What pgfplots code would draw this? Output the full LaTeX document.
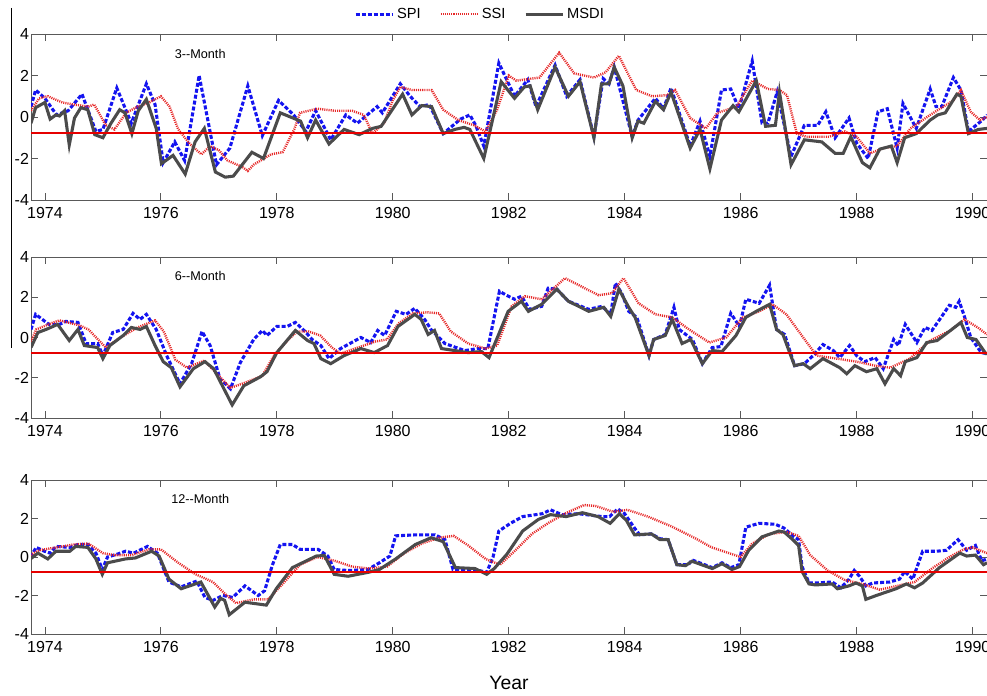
\documentclass[border=0pt]{standalone}
\usepackage{fontspec}
\setmainfont{Liberation Sans}
\usepackage{pgfplots}
\pgfplotsset{compat=1.18}
\definecolor{spic}{RGB}{20,20,240}
\definecolor{ssic}{RGB}{230,40,40}
\definecolor{msdic}{RGB}{75,75,75}
\definecolor{thrc}{RGB}{230,0,0}
\pgfplotsset{panel/.style={
  scale only axis, width=717pt, xmin=1973.76, xmax=1990.25, ymin=-4, ymax=4,
  xtick={1974,1976,...,1990}, ytick={-4,-2,0,2,4},
  xticklabel style={/pgf/number format/1000 sep={}},
  /pgf/number format/assume math mode=true,
  tick align=inside, major tick length=5pt, tick style={gray!70!black, line width=0.6pt},
  axis line style={gray!70!black, line width=0.6pt},
  ticklabel style={font=\fontsize{12}{12}\selectfont},
  xticklabel style={yshift=-2pt}, yticklabel style={xshift=2pt},
  clip=true},
  spi/.style={spic, line width=2.3pt, dash pattern=on 3pt off 1.5pt},
  ssi/.style={ssic, line width=1.8pt, dash pattern=on 0.8pt off 0.8pt},
  msdi/.style={msdic, line width=2.3pt}}
\newcommand\thrline{\addplot[draw=thrc, line width=1.2pt, forget plot] coordinates {(1973.76,-0.78)(1990.25,-0.78)};}
\begin{document}
\begin{tikzpicture}
\path[use as bounding box] (0,0) rectangle (740.25pt,521.25pt);
% Panel 1
\begin{axis}[panel, at={(23.25pt,371.25pt)}, anchor=south west, height=124.5pt,
  legend columns=3, legend style={at={(0.47,1.12)}, anchor=center, draw=none, fill=none,
  font=\fontsize{11}{11}\selectfont, /tikz/every even column/.append style={column sep=12pt}},
  legend image code/.code={\draw[#1] (0pt,0pt) -- (28pt,0pt);}]
\addplot[spi] coordinates {(1973.76,0.5)(1973.84,1.3)(1974.0,0.9)(1974.2,0.1)(1974.4,0.3)(1974.64,1.1)(1974.88,-0.7)(1975.0,-0.6)(1975.24,1.4)(1975.49,-0.3)(1975.75,1.6)(1975.9,0.6)(1976.04,-2.2)(1976.24,-1.2)(1976.41,-2.1)(1976.66,2.0)(1976.96,-2.3)(1977.19,-1.5)(1977.5,1.5)(1977.75,-0.9)(1978.03,0.8)(1978.29,0.1)(1978.5,-0.7)(1978.67,0.3)(1978.93,-1.1)(1979.19,0.1)(1979.39,-0.3)(1979.73,0.5)(1979.82,0.2)(1980.13,1.6)(1980.3,1.0)(1980.47,0.5)(1980.63,0.6)(1980.87,-0.8)(1981.17,-0.1)(1981.33,0.1)(1981.43,-0.4)(1981.57,-1.4)(1981.83,2.6)(1982.1,1.0)(1982.33,1.8)(1982.47,0.5)(1982.8,2.5)(1983.0,1.0)(1983.23,1.8)(1983.47,-0.95)(1983.63,1.85)(1983.73,1.6)(1983.82,2.4)(1984.13,-0.95)(1984.23,-0.15)(1984.53,0.9)(1984.67,0.4)(1984.8,1.4)(1985.13,-1.4)(1985.3,-0.2)(1985.47,-1.9)(1985.67,1.3)(1985.83,1.35)(1985.97,0.4)(1986.2,2.7)(1986.37,-0.3)(1986.47,-0.3)(1986.63,1.2)(1986.87,-1.9)(1987.1,-0.4)(1987.33,-0.4)(1987.47,0.25)(1987.63,-1.0)(1987.87,-0.05)(1988.0,-1.25)(1988.2,-2.0)(1988.37,0.25)(1988.53,0.4)(1988.7,-1.5)(1988.8,0.65)(1989.03,-0.55)(1989.27,1.35)(1989.37,0.5)(1989.47,0.5)(1989.67,1.9)(1989.8,1.3)(1989.93,-0.7)(1990.17,-0.15)(1990.25,0.1)};
\addlegendentry{SPI}
\addplot[ssi] coordinates {(1973.76,0.3)(1973.9,0.9)(1974.05,1.0)(1974.3,0.7)(1974.5,0.6)(1974.75,0.5)(1974.85,0.6)(1975.05,-0.4)(1975.2,-0.6)(1975.4,0.2)(1975.6,0.5)(1975.8,0.7)(1976.0,1.0)(1976.15,0.5)(1976.3,-0.6)(1976.5,-1.3)(1976.7,-1.8)(1976.85,-1.4)(1977.0,-1.6)(1977.15,-2.1)(1977.4,-2.4)(1977.5,-2.6)(1977.6,-2.3)(1977.9,-1.8)(1978.1,-1.7)(1978.3,-0.6)(1978.4,0.2)(1978.7,0.4)(1979.0,0.3)(1979.3,0.3)(1979.5,0.1)(1979.65,-0.8)(1979.85,-0.3)(1980.0,0.8)(1980.13,1.45)(1980.33,1.3)(1980.67,1.3)(1980.87,0.35)(1981.13,-0.15)(1981.4,-0.4)(1981.6,-0.7)(1981.8,0.35)(1982.0,2.0)(1982.13,1.75)(1982.53,1.9)(1982.87,3.1)(1983.13,2.1)(1983.47,1.9)(1983.67,2.15)(1983.9,2.95)(1984.2,1.3)(1984.47,1.0)(1984.73,1.05)(1984.87,1.3)(1985.13,-0.05)(1985.4,-0.55)(1985.6,0.2)(1985.93,0.5)(1986.2,1.75)(1986.47,1.35)(1986.67,1.3)(1986.8,1.05)(1986.97,-0.8)(1987.13,-0.95)(1987.53,-0.95)(1987.8,-0.7)(1988.0,-0.95)(1988.23,-1.75)(1988.47,-1.5)(1988.7,-1.4)(1988.93,-0.55)(1989.27,0.1)(1989.67,0.8)(1989.8,1.3)(1989.97,0.25)(1990.13,-0.15)(1990.25,0.0)};
\addlegendentry{SSI}
\addplot[msdi] coordinates {(1973.76,-0.3)(1973.84,0.45)(1974.0,0.7)(1974.09,-0.1)(1974.19,0.1)(1974.25,0.05)(1974.34,0.3)(1974.42,-1.35)(1974.51,-0.05)(1974.62,0.45)(1974.74,0.35)(1974.86,-0.85)(1975.0,-1.0)(1975.14,-0.3)(1975.29,0.35)(1975.38,0.2)(1975.5,-0.8)(1975.61,0.3)(1975.75,0.85)(1975.92,-0.55)(1976.01,-2.25)(1976.21,-1.85)(1976.42,-2.75)(1976.59,-1.2)(1976.75,-0.55)(1976.94,-2.65)(1977.11,-2.9)(1977.25,-2.85)(1977.57,-1.7)(1977.77,-2.0)(1978.06,0.2)(1978.41,-0.2)(1978.53,-1.0)(1978.67,-0.15)(1978.9,-1.3)(1979.16,-0.6)(1979.42,-0.85)(1979.65,-0.55)(1979.8,-0.45)(1980.17,1.1)(1980.33,0.1)(1980.5,0.55)(1980.67,0.5)(1980.87,-0.8)(1981.07,-0.6)(1981.23,-0.5)(1981.33,-0.6)(1981.57,-2.0)(1981.87,1.7)(1982.1,0.9)(1982.27,1.45)(1982.37,1.5)(1982.5,0.35)(1982.8,2.4)(1983.03,1.0)(1983.23,1.7)(1983.47,-1.0)(1983.6,1.6)(1983.73,1.6)(1983.82,2.4)(1983.97,1.5)(1984.13,-1.0)(1984.23,-0.2)(1984.33,-0.3)(1984.53,0.75)(1984.67,0.35)(1984.8,1.2)(1985.13,-1.5)(1985.3,-0.6)(1985.47,-2.5)(1985.67,-0.15)(1985.87,0.55)(1985.97,0.25)(1986.27,1.75)(1986.43,-0.45)(1986.6,-0.4)(1986.67,1.2)(1986.87,-2.3)(1987.1,-1.1)(1987.4,-1.2)(1987.63,-1.75)(1987.77,-1.75)(1987.9,-0.95)(1988.1,-2.2)(1988.23,-2.45)(1988.4,-1.55)(1988.6,-1.4)(1988.7,-2.2)(1988.83,-1.0)(1989.03,-0.8)(1989.27,-0.15)(1989.4,0.1)(1989.53,0.2)(1989.73,1.1)(1989.8,1.0)(1989.93,-0.8)(1990.1,-0.6)(1990.25,-0.55)};
\addlegendentry{MSDI}
\thrline
\node[font=\fontsize{9.5}{9.5}\selectfont] at (rel axis cs:0.177,0.88) {3{-}{-}Month};
\end{axis}
% Panel 2
\begin{axis}[panel, at={(23.25pt,207.75pt)}, anchor=south west, height=120.75pt]
\addplot[spi] coordinates {(1973.76,0.4)(1973.84,1.15)(1974.07,0.65)(1974.25,0.65)(1974.36,0.8)(1974.57,0.75)(1974.71,-0.3)(1974.91,-0.3)(1975.0,-0.9)(1975.17,0.25)(1975.35,0.4)(1975.52,1.2)(1975.64,0.9)(1975.75,1.15)(1975.92,0.4)(1976.1,-0.9)(1976.33,-2.3)(1976.53,-1.3)(1976.71,0.3)(1976.85,-0.4)(1977.02,-2.05)(1977.2,-2.55)(1977.37,-1.25)(1977.6,-0.1)(1977.75,0.35)(1977.83,0.1)(1978.0,0.55)(1978.18,0.55)(1978.32,0.75)(1978.47,0.35)(1978.61,-0.1)(1978.76,-0.4)(1978.9,-1.05)(1979.1,-0.55)(1979.45,0.0)(1979.62,-0.25)(1979.74,0.35)(1979.86,0.1)(1980.06,1.3)(1980.23,1.15)(1980.38,1.45)(1980.55,0.9)(1980.66,0.4)(1980.9,-0.3)(1981.24,-0.65)(1981.47,-0.55)(1981.64,-0.55)(1981.84,2.3)(1981.96,2.1)(1982.1,1.9)(1982.22,2.05)(1982.36,1.4)(1982.57,1.55)(1982.68,2.45)(1982.83,2.4)(1983.03,1.8)(1983.38,1.4)(1983.61,1.55)(1983.76,1.15)(1983.84,2.7)(1983.95,2.2)(1984.07,1.3)(1984.21,1.0)(1984.42,-0.9)(1984.5,-0.1)(1984.7,0.15)(1984.85,1.5)(1984.94,0.4)(1985.17,-0.1)(1985.34,-1.3)(1985.51,-0.5)(1985.66,-0.45)(1985.83,1.2)(1985.98,0.55)(1986.09,1.9)(1986.32,1.7)(1986.5,2.6)(1986.62,0.4)(1986.76,0.15)(1986.93,-1.4)(1987.1,-1.3)(1987.25,-0.9)(1987.42,-0.35)(1987.6,-0.65)(1987.71,-1.0)(1987.88,-0.4)(1988.0,-0.9)(1988.14,-1.2)(1988.32,-1.0)(1988.46,-1.55)(1988.64,-0.1)(1988.72,-0.4)(1988.84,0.65)(1989.04,-0.25)(1989.18,0.5)(1989.3,0.35)(1989.47,1.05)(1989.6,1.6)(1989.71,1.5)(1989.77,1.8)(1989.86,1.05)(1989.97,0.0)(1990.15,-0.75)(1990.25,-0.8)};
\addplot[ssi] coordinates {(1973.76,-0.2)(1973.85,0.4)(1974.1,0.7)(1974.25,0.85)(1974.6,0.6)(1974.75,0.4)(1974.95,-0.2)(1975.05,-0.5)(1975.3,0.0)(1975.6,0.5)(1975.9,0.85)(1976.05,0.3)(1976.25,-1.1)(1976.45,-1.5)(1976.75,-1.15)(1977.0,-1.9)(1977.2,-2.5)(1977.45,-2.25)(1977.75,-1.9)(1977.95,-0.9)(1978.2,-0.1)(1978.35,0.3)(1978.55,0.3)(1978.75,0.1)(1978.95,-0.5)(1979.1,-0.8)(1979.4,-0.5)(1979.7,-0.2)(1979.9,-0.1)(1980.1,0.7)(1980.35,1.2)(1980.6,1.25)(1980.8,1.2)(1981.0,0.3)(1981.3,-0.3)(1981.6,-0.55)(1981.8,-0.4)(1982.05,1.55)(1982.28,2.05)(1982.57,1.9)(1982.97,2.95)(1983.55,2.1)(1983.78,2.2)(1983.98,2.95)(1984.24,1.7)(1984.53,1.15)(1984.82,1.0)(1985.11,0.4)(1985.46,-0.25)(1985.75,0.0)(1986.04,1.0)(1986.32,1.3)(1986.55,1.65)(1986.79,1.15)(1987.08,0.0)(1987.31,-0.9)(1987.66,-1.05)(1988.0,-1.2)(1988.32,-1.4)(1988.58,-1.5)(1988.92,-1.05)(1989.27,-0.15)(1989.62,0.35)(1989.86,0.9)(1990.09,0.5)(1990.25,0.15)};
\addplot[msdi] coordinates {(1973.76,-0.5)(1973.88,0.25)(1974.02,0.4)(1974.22,0.65)(1974.42,-0.15)(1974.57,0.4)(1974.68,-0.4)(1974.91,-0.5)(1975.0,-1.05)(1975.12,-0.4)(1975.35,0.1)(1975.49,0.5)(1975.64,0.4)(1975.75,0.55)(1975.9,-0.4)(1976.04,-1.2)(1976.18,-1.5)(1976.33,-2.45)(1976.56,-1.55)(1976.76,-1.2)(1976.91,-1.55)(1977.23,-3.35)(1977.43,-2.4)(1977.72,-1.95)(1977.83,-1.7)(1978.0,-0.75)(1978.32,0.35)(1978.53,-0.15)(1978.64,-0.3)(1978.76,-1.05)(1978.93,-1.3)(1979.16,-0.9)(1979.45,-0.55)(1979.68,-0.75)(1979.91,-0.4)(1980.09,0.55)(1980.38,1.15)(1980.49,0.9)(1980.61,0.15)(1980.72,0.35)(1980.84,-0.55)(1981.3,-0.75)(1981.53,-0.7)(1981.66,-1.0)(1981.84,0.25)(1981.99,1.3)(1982.22,1.8)(1982.34,1.3)(1982.57,1.65)(1982.83,2.4)(1983.03,1.8)(1983.38,1.3)(1983.64,1.5)(1983.76,1.05)(1983.9,2.4)(1984.07,1.5)(1984.18,1.0)(1984.42,-0.9)(1984.5,-0.1)(1984.7,0.1)(1984.82,0.9)(1984.99,-0.3)(1985.14,-0.1)(1985.34,-1.3)(1985.51,-0.65)(1985.68,-0.7)(1985.92,0.1)(1986.09,1.0)(1986.27,1.3)(1986.5,1.65)(1986.62,0.4)(1986.73,0.15)(1986.93,-1.4)(1987.08,-1.3)(1987.2,-1.55)(1987.42,-1.05)(1987.71,-1.5)(1987.83,-1.8)(1987.97,-1.4)(1988.17,-1.7)(1988.35,-1.55)(1988.49,-2.3)(1988.64,-1.55)(1988.76,-1.9)(1988.84,-1.2)(1989.04,-1.0)(1989.21,-0.25)(1989.39,-0.15)(1989.62,0.35)(1989.8,0.75)(1989.91,0.0)(1990.06,-0.1)(1990.23,-0.8)(1990.25,-0.8)};
\thrline
\node[font=\fontsize{9.5}{9.5}\selectfont] at (rel axis cs:0.177,0.88) {6{-}{-}Month};
\end{axis}
% Panel 3
\begin{axis}[panel, at={(23.25pt,45.75pt)}, anchor=south west, height=115.5pt,
  xlabel={Year}, xlabel style={at={(axis description cs:0.5,-0.318)}, anchor=center, font=\fontsize{14.5}{14.5}\selectfont}]
\addplot[spi] coordinates {(1973.75,0)(1973.85,0.5)(1973.99,0.3)(1974.09,0.2)(1974.19,0.55)(1974.43,0.5)(1974.57,0.65)(1974.74,0.65)(1974.88,0.2)(1974.99,-0.65)(1975.08,0)(1975.25,0.15)(1975.39,0.3)(1975.53,0.2)(1975.77,0.55)(1975.94,0.2)(1976.14,-1.3)(1976.35,-1.55)(1976.62,-1.25)(1976.76,-2.1)(1976.9,-2.25)(1977.07,-2.0)(1977.24,-2.1)(1977.45,-1.5)(1977.68,-2.0)(1977.79,-1.75)(1977.92,-0.45)(1978.06,0.65)(1978.27,0.65)(1978.4,0.4)(1978.71,0.4)(1978.88,0.05)(1978.99,-0.65)(1979.23,-0.7)(1979.57,-0.65)(1979.77,-0.3)(1979.95,0.05)(1980.05,1.1)(1980.39,1.15)(1980.73,1.15)(1980.9,0.9)(1981.04,-0.65)(1981.42,-0.65)(1981.62,-0.8)(1981.73,0)(1981.83,1.35)(1982.03,1.75)(1982.24,2.1)(1982.58,2.25)(1982.72,2.45)(1982.92,2.2)(1983.2,2.25)(1983.61,2.1)(1983.74,2.1)(1983.88,2.5)(1984.0,2.25)(1984.17,1.5)(1984.26,1.15)(1984.46,1.2)(1984.61,0.95)(1984.75,0.9)(1984.9,-0.4)(1985.1,-0.4)(1985.16,-0.15)(1985.51,-0.55)(1985.68,-0.3)(1985.83,-0.55)(1985.97,-0.4)(1986.09,1.55)(1986.32,1.75)(1986.6,1.7)(1986.75,1.5)(1986.92,1.05)(1987.0,0.9)(1987.06,-0.5)(1987.18,-1.35)(1987.29,-1.35)(1987.58,-1.3)(1987.73,-1.6)(1987.87,-1.15)(1987.96,-0.7)(1988.05,-1.0)(1988.16,-1.5)(1988.28,-1.35)(1988.57,-1.3)(1988.74,-1.15)(1988.83,-0.75)(1988.97,-1.15)(1989.14,0.3)(1989.38,0.3)(1989.55,0.35)(1989.75,0.9)(1989.9,0.35)(1990.05,0.6)(1990.16,-0.2)(1990.25,-0.1)};
\addplot[ssi] coordinates {(1973.75,0.1)(1973.9,0.35)(1974.2,0.5)(1974.5,0.65)(1974.75,0.7)(1975.0,0.2)(1975.2,0.1)(1975.5,0.1)(1975.8,0.4)(1976.0,0.4)(1976.3,-0.3)(1976.6,-0.9)(1976.9,-1.3)(1977.1,-1.9)(1977.3,-2.4)(1977.6,-2.2)(1977.85,-2.2)(1978.1,-1.4)(1978.4,-0.4)(1978.7,0.0)(1979.0,-0.2)(1979.3,-0.5)(1979.6,-0.6)(1979.9,-0.5)(1980.2,0.2)(1980.5,0.7)(1980.8,1.0)(1981.05,1.1)(1981.3,0.6)(1981.6,-0.1)(1981.85,-0.4)(1982.1,0.3)(1982.4,1.2)(1982.7,1.8)(1983.0,2.3)(1983.3,2.7)(1983.5,2.65)(1983.8,2.35)(1984.05,2.45)(1984.4,2.1)(1984.8,1.6)(1985.2,1.0)(1985.5,0.5)(1985.8,0.2)(1986.0,0.0)(1986.2,0.7)(1986.5,1.2)(1986.8,1.3)(1987.0,1.1)(1987.2,0.1)(1987.5,-0.7)(1987.8,-1.2)(1988.1,-1.4)(1988.4,-1.7)(1988.7,-1.5)(1989.0,-1.3)(1989.3,-0.6)(1989.6,0.0)(1989.85,0.4)(1990.0,0.5)(1990.25,0.2)};
\addplot[msdi] coordinates {(1973.75,-0.1)(1973.88,0.2)(1974.05,-0.1)(1974.19,0.3)(1974.43,0.3)(1974.53,0.55)(1974.74,0.5)(1974.88,-0.1)(1974.99,-0.9)(1975.08,-0.3)(1975.39,-0.1)(1975.56,-0.05)(1975.84,0.3)(1975.97,0.05)(1976.14,-1.15)(1976.35,-1.65)(1976.69,-1.3)(1976.93,-2.6)(1977.03,-2.15)(1977.1,-2.25)(1977.18,-3.0)(1977.45,-2.35)(1977.82,-2.5)(1977.99,-1.65)(1978.27,-0.55)(1978.68,0.05)(1978.82,0.08)(1978.99,-0.9)(1979.23,-1.0)(1979.57,-0.8)(1979.77,-0.65)(1980.05,-0.1)(1980.39,0.65)(1980.66,1.0)(1980.87,0.8)(1981.08,-0.55)(1981.42,-0.6)(1981.62,-0.9)(1981.75,-0.6)(1981.97,0.15)(1982.24,1.35)(1982.51,1.95)(1982.72,2.2)(1982.99,2.1)(1983.27,2.3)(1983.54,2.1)(1983.75,1.75)(1983.91,2.25)(1984.03,1.9)(1984.17,1.15)(1984.46,1.2)(1984.61,0.9)(1984.75,0.9)(1984.9,-0.4)(1985.05,-0.45)(1985.16,-0.22)(1985.51,-0.6)(1985.68,-0.35)(1985.85,-0.65)(1985.98,-0.5)(1986.14,0.35)(1986.37,1.05)(1986.66,1.35)(1986.75,1.3)(1986.9,0.9)(1987.0,0.6)(1987.06,-0.75)(1987.18,-1.4)(1987.29,-1.45)(1987.58,-1.4)(1987.67,-1.65)(1987.87,-1.5)(1987.99,-1.35)(1988.1,-1.5)(1988.16,-2.2)(1988.34,-2.0)(1988.68,-1.65)(1988.86,-1.4)(1989.0,-1.6)(1989.14,-1.35)(1989.43,-0.55)(1989.78,0.2)(1989.9,0.05)(1990.05,0.1)(1990.19,-0.4)(1990.25,-0.3)};
\thrline
\node[font=\fontsize{9.5}{9.5}\selectfont] at (rel axis cs:0.177,0.88) {12{-}{-}Month};
\end{axis}
\draw[black, line width=0.7pt] (8.25pt,515.25pt) -- (8.25pt,260.25pt);
\end{tikzpicture}
\end{document}
